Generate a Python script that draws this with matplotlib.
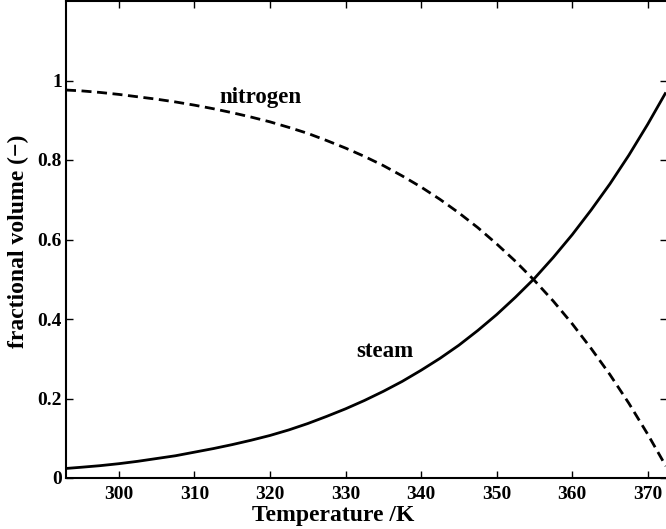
import matplotlib
matplotlib.use("Agg")
import matplotlib.pyplot as plt

temperature = [293, 295, 297.5, 300, 302.5, 305, 307.5, 310, 312.5, 315, 317.5, 320,
               322.5, 325, 327.5, 330, 332.5, 335, 337.5, 340, 342.5, 345, 347.5,
               350, 352.5, 355, 357.5, 360, 362.5, 365, 367.5, 370, 372.4]
steam = [0.024, 0.027, 0.031, 0.036, 0.042, 0.049, 0.056, 0.065, 0.074, 0.084, 0.095, 0.107,
         0.121, 0.137, 0.155, 0.174, 0.195, 0.218, 0.243, 0.271, 0.301, 0.334, 0.371,
         0.411, 0.455, 0.502, 0.555, 0.612, 0.674, 0.740, 0.812, 0.890, 0.970]
nitrogen = [0.976, 0.974, 0.970, 0.965, 0.959, 0.953, 0.946, 0.938, 0.929, 0.919, 0.908, 0.896,
            0.882, 0.867, 0.849, 0.830, 0.809, 0.786, 0.760, 0.732, 0.701, 0.667, 0.630,
            0.589, 0.545, 0.497, 0.445, 0.388, 0.326, 0.260, 0.188, 0.110, 0.030]
x_ticks = [300, 310, 320, 330, 340, 350, 360, 370]
y_ticks = [0, 0.2, 0.4, 0.6, 0.8, 1]
y_tick_labels = ["0", "0.2", "0.4", "0.6", "0.8", "1"]

plt.rcParams['font.family'] = ['Liberation Serif', 'DejaVu Serif']
plt.rcParams['font.weight'] = 'bold'

fig = plt.figure(figsize=(6.66, 5.29), dpi=100)
ax = fig.add_axes([66/666, (529-478)/529, 601/666, 477/529])

ax.plot(temperature, steam, color='black', lw=2, solid_capstyle='butt')
ax.plot(temperature, nitrogen, color='black', lw=2, linestyle=(0, (3.6, 2.0)))

ax.set_xlim(293, 372.55)
ax.set_ylim(0, 1.2)
ax.set_xticks(x_ticks)
ax.set_xticklabels([str(t) for t in x_ticks])
ax.set_yticks(y_ticks)
ax.set_yticklabels(y_tick_labels)
ax.tick_params(direction='in', length=5, width=1, top=True, right=True,
               labelsize=14)
ax.tick_params(axis='x', pad=6)
ax.tick_params(axis='y', pad=3)
for lab in ax.get_xticklabels() + ax.get_yticklabels():
    lab.set_fontweight('bold')
for s in ax.spines.values():
    s.set_linewidth(1.5)

fig.text(333/666, 1 - 515/529, "Temperature /K", fontsize=17, fontweight='bold',
         ha='center', va='center')
fig.text(18/666, 1 - 241/529, "fractional volume (\u2212)", fontsize=17, fontweight='bold',
         ha='center', va='center', rotation=90)

ax.text(318.7, 0.956, "nitrogen", fontsize=16.5, fontweight='bold', ha='center', va='center')
ax.text(335.2, 0.317, "steam", fontsize=16.5, fontweight='bold', ha='center', va='center')

fig.savefig("out.png", dpi=100)
